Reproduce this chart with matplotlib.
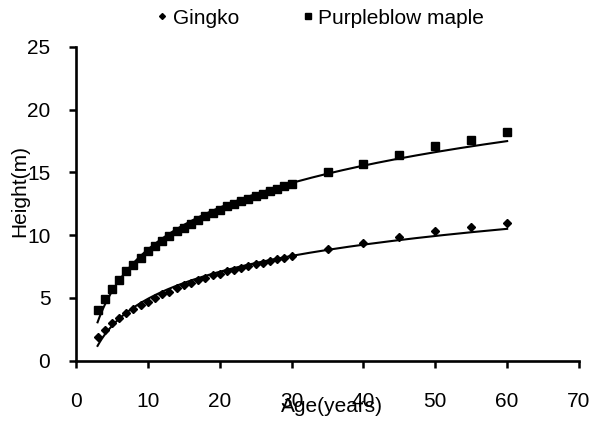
import numpy as np
import matplotlib
matplotlib.use("Agg")
import matplotlib.pyplot as plt

plt.rcParams['font.family'] = ['Liberation Sans', 'DejaVu Sans']

ages = [3, 4, 5, 6, 7, 8, 9, 10, 11, 12, 13, 14, 15, 16, 17, 18, 19, 20, 21, 22,
        23, 24, 25, 26, 27, 28, 29, 30, 35, 40, 45, 50, 55, 60]
gingko = [1.9, 2.45, 3.0, 3.4, 3.8, 4.1, 4.4, 4.7, 5.0, 5.3, 5.5, 5.8, 6.0, 6.2, 6.4,
          6.6, 6.8, 6.9, 7.1, 7.2, 7.4, 7.5, 7.7, 7.8, 7.95, 8.1, 8.2, 8.35,
          8.87, 9.37, 9.85, 10.3, 10.65, 11.0]
maple = [4.0, 4.9, 5.7, 6.4, 7.1, 7.6, 8.2, 8.7, 9.1, 9.5, 9.9, 10.3, 10.6, 10.9, 11.2,
         11.5, 11.8, 12.0, 12.3, 12.5, 12.7, 12.9, 13.1, 13.3, 13.5, 13.7, 13.9, 14.1,
         15.0, 15.7, 16.4, 17.1, 17.6, 18.2]
xticks = [0, 10, 20, 30, 40, 50, 60, 70]
yticks = [0, 5, 10, 15, 20, 25]

W, H = 593, 428
fig = plt.figure(figsize=(W/100, H/100), dpi=100)
L, R, T, B = 76, 579, 47, 360.5
ax = fig.add_axes([L/W, 1-B/H, (R-L)/W, (B-T)/H])

x = np.array(ages, dtype=float)
xs = np.linspace(3, 60, 200)
for vals in (gingko, maple):
    a, b = np.polyfit(np.log(x), np.array(vals), 1)
    ax.plot(xs, a*np.log(xs)+b, color='black', lw=1.5, zorder=2)

ax.plot(ages, gingko, linestyle='none', marker='D', ms=4, color='black',
        label='Gingko', zorder=3)
ax.plot(ages, maple, linestyle='none', marker='s', ms=5.2, color='black',
        label='Purpleblow maple', zorder=3)

ax.set_xlim(0, 70)
ax.set_ylim(0, 25)
ax.set_xticks(xticks)
ax.set_yticks(yticks)
ax.tick_params(direction='out', length=5, width=1.8, labelsize=15, colors='black')
ax.tick_params(axis='y', pad=13.5)
ax.tick_params(axis='x', pad=18)
for s in ['top', 'right']:
    ax.spines[s].set_visible(False)
for s in ['left', 'bottom']:
    ax.spines[s].set_linewidth(1.9)

ax.set_xlabel('Age(years)', fontsize=15)
ax.set_ylabel('Height(m)', fontsize=15)
ax.xaxis.set_label_coords(0.509, -0.147)
ax.yaxis.set_label_coords(-0.111, 0.541)
ax.xaxis.label.set_va('center')
ax.yaxis.label.set_va('center')

h, l = ax.get_legend_handles_labels()
leg = fig.legend(h, l, loc='center left', bbox_to_anchor=(157/W, 1-18/H), ncol=2,
                 frameon=False, fontsize=15, handlelength=0.5, handletextpad=0.25,
                 columnspacing=3.05, borderpad=0, borderaxespad=0, markerscale=0.75)

fig.savefig('out.png', dpi=100)
